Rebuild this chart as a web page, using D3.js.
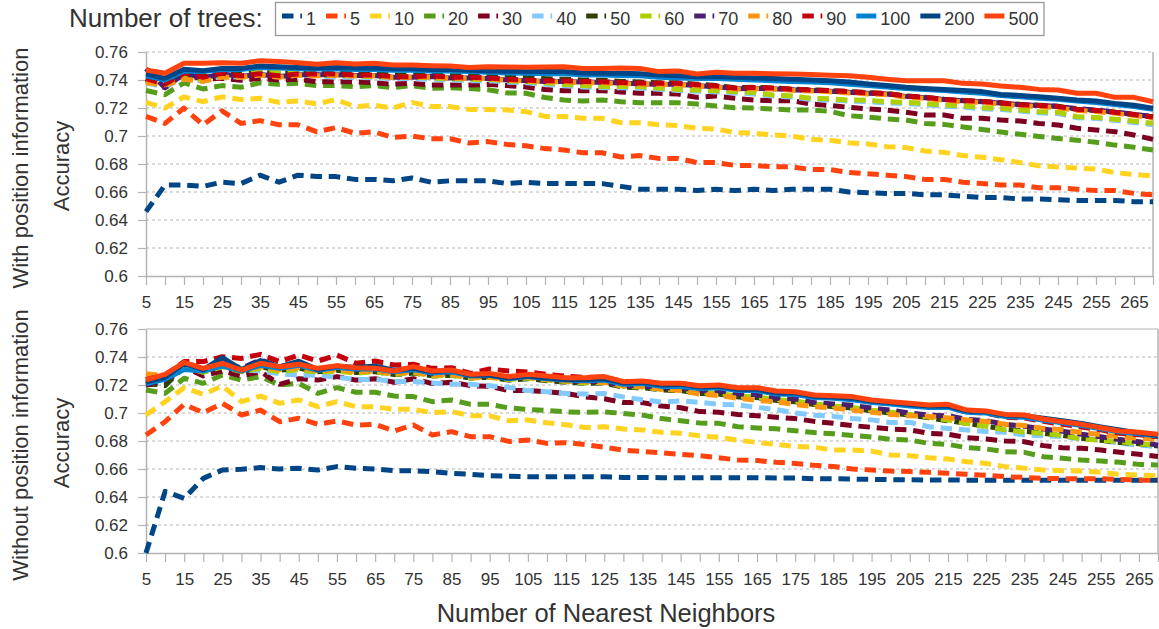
<!DOCTYPE html>
<html><head><meta charset="utf-8">
<script src="https://cdn.jsdelivr.net/npm/d3@7"></script>
<style>body{margin:0;background:#fff}svg{display:block;font-family:"Liberation Sans",Arial,sans-serif}</style>
</head><body><svg id="c" width="1159" height="629"></svg>
<script>
const categories = [5,10,15,20,25,30,35,40,45,50,55,60,65,70,75,80,85,90,95,100,105,110,115,120,125,130,135,140,145,150,155,160,165,170,175,180,185,190,195,200,205,210,215,220,225,230,235,240,245,250,255,260,265,270];
const xTickLabels = [5,15,25,35,45,55,65,75,85,95,105,115,125,135,145,155,165,175,185,195,205,215,225,235,245,255,265];
const yTicks = [0.6,0.62,0.64,0.66,0.68,0.7,0.72,0.74,0.76];
const seriesNames = ["1","5","10","20","30","40","50","60","70","80","90","100","200","500"];
const seriesColors = ["#004586","#ff420e","#ffd320","#579d1c","#7e0021","#83caff","#314004","#aecf00","#4b1f6f","#ff950e","#c5000b","#0084d1","#004586","#ff420e"];
const solidSeries = ["100","200","500"];

// With position information
const top_1 = [0.646,0.665,0.665,0.664,0.667,0.666,0.672,0.667,0.672,0.671,0.671,0.669,0.669,0.668,0.670,0.667,0.668,0.668,0.668,0.666,0.667,0.666,0.666,0.666,0.666,0.664,0.662,0.662,0.662,0.661,0.662,0.661,0.662,0.661,0.662,0.662,0.662,0.660,0.6595,0.659,0.659,0.658,0.658,0.657,0.656,0.656,0.655,0.655,0.6545,0.654,0.654,0.654,0.653,0.653];
const top_5 = [0.714,0.709,0.720,0.708,0.718,0.709,0.711,0.708,0.708,0.703,0.706,0.702,0.703,0.699,0.700,0.698,0.698,0.695,0.696,0.694,0.693,0.691,0.690,0.688,0.688,0.685,0.686,0.684,0.684,0.681,0.681,0.679,0.679,0.678,0.678,0.676,0.676,0.674,0.673,0.672,0.671,0.669,0.669,0.667,0.666,0.665,0.665,0.663,0.663,0.662,0.661,0.661,0.659,0.658];
const top_10 = [0.724,0.720,0.728,0.7245,0.728,0.726,0.727,0.724,0.725,0.723,0.726,0.721,0.722,0.720,0.724,0.721,0.721,0.719,0.719,0.7186,0.7174,0.714,0.714,0.7126,0.7126,0.7095,0.7095,0.708,0.7074,0.7055,0.705,0.7024,0.702,0.7007,0.700,0.6976,0.697,0.6952,0.6943,0.6924,0.6917,0.6893,0.6883,0.686,0.6848,0.6831,0.681,0.6788,0.6779,0.6771,0.6764,0.6738,0.6726,0.6714];
const top_20 = [0.7325,0.7295,0.738,0.7336,0.736,0.7348,0.738,0.737,0.7376,0.736,0.736,0.7352,0.736,0.7345,0.736,0.734,0.7345,0.734,0.733,0.7308,0.7305,0.7275,0.7257,0.725,0.7257,0.7245,0.7238,0.7238,0.7238,0.7228,0.7215,0.7202,0.720,0.7192,0.7186,0.7186,0.7176,0.7145,0.7135,0.7122,0.7114,0.709,0.7083,0.7065,0.7047,0.7028,0.7012,0.6997,0.6982,0.697,0.6955,0.6935,0.692,0.690];
const top_30 = [0.740,0.7345,0.744,0.7405,0.7412,0.7398,0.7412,0.740,0.7405,0.7388,0.7388,0.7388,0.738,0.737,0.7376,0.7364,0.7364,0.7364,0.7369,0.736,0.735,0.7332,0.7324,0.7324,0.7324,0.7315,0.7305,0.7305,0.730,0.7276,0.7286,0.7269,0.7257,0.7252,0.7252,0.7228,0.7218,0.7205,0.7193,0.7184,0.717,0.715,0.715,0.7126,0.7126,0.7114,0.7107,0.709,0.7079,0.7055,0.7043,0.7031,0.7007,0.6976];
const top_40 = [0.738,0.735,0.742,0.739,0.743,0.742,0.745,0.744,0.744,0.743,0.742,0.742,0.7415,0.741,0.741,0.7405,0.740,0.7395,0.7395,0.7385,0.738,0.737,0.736,0.735,0.7345,0.7345,0.7342,0.7333,0.7325,0.732,0.7315,0.7308,0.730,0.7285,0.7278,0.726,0.7257,0.725,0.7245,0.7237,0.7232,0.7224,0.7213,0.7208,0.7194,0.719,0.7178,0.7166,0.716,0.713,0.7125,0.7112,0.7097,0.708];
const top_50 = [0.741,0.736,0.746,0.743,0.7455,0.744,0.746,0.7445,0.7455,0.745,0.745,0.7445,0.7445,0.7435,0.7435,0.744,0.743,0.743,0.7428,0.7435,0.7425,0.741,0.7405,0.740,0.7398,0.739,0.7385,0.738,0.738,0.737,0.736,0.7345,0.7348,0.7343,0.7335,0.733,0.7325,0.7318,0.731,0.7303,0.7286,0.7276,0.7263,0.7254,0.7247,0.7237,0.7226,0.722,0.7212,0.7192,0.7183,0.717,0.7153,0.7138];
const top_60 = [0.739,0.736,0.743,0.740,0.744,0.743,0.746,0.745,0.745,0.744,0.743,0.7431,0.7425,0.742,0.742,0.7415,0.741,0.7405,0.7405,0.7395,0.739,0.738,0.737,0.736,0.7352,0.7355,0.7352,0.7342,0.7333,0.7329,0.7324,0.7317,0.731,0.7293,0.7286,0.7269,0.7265,0.7257,0.7255,0.7245,0.724,0.7232,0.7221,0.7217,0.7202,0.7198,0.7186,0.7174,0.7169,0.7138,0.7133,0.712,0.7105,0.709];
const top_70 = [0.748,0.7345,0.7445,0.7415,0.7443,0.7425,0.744,0.7425,0.7438,0.7438,0.7438,0.7432,0.7432,0.742,0.742,0.7425,0.7415,0.7415,0.741,0.740,0.7395,0.739,0.739,0.7385,0.7383,0.7378,0.7373,0.737,0.737,0.736,0.7352,0.7338,0.734,0.7337,0.733,0.7325,0.732,0.7313,0.7305,0.730,0.7283,0.7274,0.726,0.7252,0.7245,0.7235,0.7224,0.7218,0.7212,0.7195,0.7185,0.7172,0.7155,0.714];
const top_80 = [0.738,0.7365,0.7405,0.739,0.742,0.742,0.7435,0.742,0.7435,0.743,0.7435,0.7428,0.743,0.7418,0.742,0.7422,0.7413,0.7413,0.741,0.7398,0.7393,0.7388,0.7388,0.7382,0.738,0.7375,0.737,0.7368,0.7368,0.7358,0.735,0.7335,0.7338,0.7335,0.7326,0.7322,0.7316,0.7308,0.730,0.7295,0.7278,0.7268,0.7255,0.7245,0.724,0.7228,0.7216,0.721,0.7202,0.7182,0.7175,0.7162,0.7146,0.7128];
const top_90 = [0.741,0.737,0.745,0.742,0.7448,0.743,0.7445,0.743,0.7443,0.7443,0.7443,0.7436,0.7436,0.7424,0.7424,0.743,0.742,0.742,0.7415,0.7405,0.740,0.7395,0.7395,0.739,0.7388,0.7382,0.7378,0.7376,0.7376,0.7366,0.7358,0.7342,0.7346,0.7342,0.7334,0.7329,0.7324,0.7317,0.7308,0.7303,0.7285,0.7276,0.7262,0.7253,0.7247,0.7236,0.7224,0.7218,0.721,0.719,0.7182,0.717,0.7153,0.7135];
const top_100 = [0.743,0.740,0.7465,0.746,0.7475,0.7475,0.749,0.7485,0.748,0.7478,0.748,0.7475,0.7475,0.747,0.747,0.7465,0.7465,0.746,0.7455,0.745,0.7448,0.7445,0.7445,0.7438,0.7435,0.7432,0.743,0.742,0.7415,0.741,0.741,0.7405,0.740,0.7395,0.739,0.7385,0.738,0.737,0.736,0.735,0.734,0.7332,0.7325,0.7315,0.7305,0.729,0.728,0.727,0.7262,0.725,0.724,0.7225,0.721,0.719];
const top_200 = [0.7445,0.7412,0.7476,0.7467,0.7483,0.7483,0.750,0.7495,0.749,0.7485,0.749,0.7485,0.7485,0.748,0.748,0.7475,0.7475,0.747,0.7465,0.7462,0.746,0.746,0.746,0.745,0.7448,0.7448,0.7445,0.7436,0.743,0.7424,0.7424,0.742,0.7414,0.741,0.7405,0.740,0.7395,0.7385,0.7372,0.736,0.7348,0.734,0.7332,0.7325,0.7317,0.7297,0.729,0.728,0.727,0.7257,0.725,0.7233,0.722,0.7198];
const top_500 = [0.7471,0.7448,0.7519,0.7519,0.7524,0.7519,0.7538,0.7533,0.7524,0.7512,0.7524,0.7514,0.7519,0.7507,0.7507,0.7502,0.750,0.749,0.7495,0.7493,0.7491,0.7493,0.7495,0.7483,0.7483,0.7485,0.7483,0.746,0.7465,0.7443,0.7455,0.7448,0.7448,0.7445,0.7443,0.744,0.7434,0.743,0.7419,0.7405,0.7395,0.7395,0.7395,0.7376,0.7371,0.7357,0.7348,0.7333,0.7329,0.7305,0.7305,0.7276,0.7276,0.7245];

// Without position information
const bot_1 = [0.600,0.644,0.639,0.6533,0.6593,0.6598,0.661,0.660,0.6605,0.6593,0.6617,0.6605,0.660,0.6588,0.6588,0.6581,0.6569,0.6562,0.6552,0.6548,0.6545,0.6545,0.6545,0.6545,0.6545,0.654,0.654,0.6538,0.6538,0.6538,0.6538,0.6538,0.6538,0.6535,0.6535,0.653,0.653,0.6528,0.6526,0.6524,0.6523,0.6522,0.6522,0.652,0.652,0.652,0.652,0.652,0.652,0.652,0.652,0.652,0.652,0.652];
const bot_5 = [0.6843,0.6938,0.7062,0.7002,0.7069,0.6986,0.7021,0.6938,0.6962,0.6919,0.6943,0.6914,0.6919,0.6871,0.6914,0.6843,0.6867,0.6831,0.6831,0.6797,0.6807,0.6783,0.6788,0.6775,0.6755,0.6735,0.6725,0.6716,0.6705,0.6695,0.668,0.6664,0.666,0.6648,0.664,0.6626,0.6618,0.660,0.6593,0.6585,0.6582,0.6576,0.657,0.6562,0.6555,0.6545,0.654,0.6533,0.6531,0.653,0.6531,0.6525,0.6521,0.652];
const bot_10 = [0.6986,0.7081,0.7181,0.7133,0.7193,0.7081,0.7121,0.7069,0.7093,0.7045,0.7081,0.7045,0.7045,0.7026,0.7026,0.7002,0.701,0.6981,0.698,0.6945,0.695,0.693,0.6916,0.6897,0.6902,0.6886,0.6879,0.6862,0.6855,0.6837,0.6826,0.6805,0.679,0.6775,0.6762,0.6755,0.6736,0.6736,0.6728,0.670,0.6695,0.6681,0.6671,0.6652,0.664,0.6617,0.6605,0.6593,0.6588,0.6586,0.6576,0.6562,0.6557,0.6552];
const bot_20 = [0.7164,0.714,0.7248,0.7212,0.7271,0.7236,0.726,0.720,0.7212,0.714,0.7181,0.7148,0.7148,0.7121,0.7117,0.7081,0.7093,0.7062,0.7062,0.7036,0.7025,0.7018,0.7008,0.7005,0.7008,0.6997,0.6985,0.696,0.6945,0.6928,0.6926,0.6902,0.6893,0.6887,0.6873,0.686,0.6852,0.684,0.6828,0.6812,0.6807,0.6783,0.6776,0.6752,0.6743,0.6724,0.6719,0.6688,0.6676,0.6664,0.6657,0.6648,0.6633,0.6628];
const bot_30 = [0.720,0.7215,0.733,0.7265,0.730,0.7265,0.7295,0.7205,0.7245,0.7235,0.726,0.7235,0.7245,0.722,0.7245,0.721,0.722,0.7195,0.719,0.716,0.716,0.7152,0.714,0.7115,0.7102,0.7075,0.7074,0.705,0.7038,0.701,0.7005,0.699,0.698,0.697,0.696,0.694,0.6926,0.691,0.6898,0.6885,0.6879,0.6855,0.6848,0.6824,0.6814,0.680,0.6795,0.6767,0.6752,0.6748,0.6736,0.6719,0.6705,0.669];
const bot_40 = [0.722,0.724,0.735,0.731,0.733,0.731,0.730,0.728,0.727,0.727,0.7255,0.724,0.724,0.7225,0.7225,0.7215,0.7205,0.7205,0.7195,0.7183,0.716,0.7152,0.714,0.7135,0.714,0.7115,0.7095,0.7078,0.7086,0.7076,0.7062,0.7058,0.704,0.7024,0.700,0.6984,0.6976,0.696,0.6951,0.6932,0.6933,0.6902,0.689,0.6879,0.6867,0.6862,0.6843,0.6838,0.6831,0.6814,0.6807,0.6783,0.6771,0.676];
const bot_50 = [0.7215,0.7195,0.733,0.7295,0.7335,0.730,0.733,0.7305,0.732,0.7295,0.7305,0.729,0.7295,0.7275,0.7285,0.7265,0.727,0.725,0.7255,0.7235,0.7245,0.723,0.722,0.7212,0.7215,0.7185,0.718,0.7165,0.716,0.714,0.7135,0.7115,0.711,0.709,0.708,0.706,0.7045,0.7035,0.7015,0.700,0.6985,0.6965,0.6945,0.6925,0.6905,0.6885,0.687,0.6855,0.684,0.682,0.6805,0.679,0.678,0.6765];
const bot_60 = [0.723,0.725,0.733,0.729,0.733,0.7295,0.732,0.7295,0.731,0.729,0.730,0.7285,0.7295,0.7275,0.729,0.7265,0.727,0.725,0.7255,0.724,0.725,0.7235,0.7225,0.7215,0.722,0.719,0.7185,0.717,0.7165,0.7145,0.714,0.712,0.7115,0.7095,0.7085,0.7065,0.705,0.704,0.702,0.7005,0.699,0.697,0.695,0.6925,0.6905,0.688,0.6865,0.6855,0.684,0.6815,0.6805,0.6795,0.678,0.677];
const bot_70 = [0.7205,0.7235,0.7345,0.731,0.737,0.732,0.738,0.733,0.736,0.7315,0.7335,0.731,0.732,0.7295,0.731,0.728,0.729,0.7265,0.7265,0.725,0.726,0.7245,0.7232,0.7225,0.7225,0.7195,0.7195,0.718,0.718,0.716,0.7158,0.7135,0.713,0.7105,0.710,0.7075,0.7065,0.7055,0.7035,0.702,0.700,0.6985,0.698,0.6955,0.6945,0.692,0.6905,0.6885,0.687,0.6848,0.683,0.681,0.6795,0.677];
const bot_80 = [0.728,0.7265,0.7335,0.731,0.734,0.7305,0.733,0.731,0.7325,0.730,0.731,0.7295,0.730,0.728,0.7295,0.727,0.7275,0.7255,0.7255,0.7245,0.7255,0.724,0.7228,0.7225,0.722,0.7195,0.719,0.717,0.716,0.7135,0.7125,0.7105,0.709,0.708,0.706,0.7045,0.7035,0.702,0.7005,0.699,0.698,0.6975,0.6965,0.695,0.694,0.692,0.691,0.689,0.688,0.686,0.6845,0.683,0.682,0.681];
const bot_90 = [0.724,0.727,0.7367,0.7367,0.7402,0.739,0.7419,0.7367,0.7414,0.7371,0.7414,0.7355,0.7371,0.7343,0.7348,0.7319,0.7324,0.7283,0.7314,0.730,0.7293,0.7276,0.7262,0.7255,0.7255,0.7225,0.7225,0.721,0.721,0.7192,0.7195,0.7175,0.7175,0.715,0.7145,0.712,0.7115,0.7105,0.7085,0.7075,0.7055,0.7045,0.7045,0.7005,0.700,0.697,0.6965,0.694,0.692,0.690,0.688,0.6855,0.6845,0.683];
const bot_100 = [0.721,0.724,0.731,0.730,0.7335,0.730,0.734,0.732,0.734,0.7305,0.7325,0.7315,0.7315,0.7295,0.731,0.7285,0.7295,0.7265,0.727,0.7245,0.726,0.7245,0.7235,0.723,0.7235,0.7205,0.721,0.719,0.719,0.7175,0.718,0.716,0.716,0.7135,0.7132,0.711,0.7105,0.7095,0.7075,0.7065,0.705,0.704,0.704,0.7005,0.700,0.6975,0.697,0.6948,0.693,0.691,0.6888,0.6865,0.6852,0.6835];
const bot_200 = [0.722,0.7255,0.7355,0.731,0.7395,0.731,0.7375,0.733,0.737,0.731,0.7335,0.7325,0.7335,0.7305,0.732,0.7295,0.7305,0.727,0.727,0.725,0.7265,0.725,0.724,0.724,0.7245,0.7215,0.722,0.720,0.7205,0.7185,0.719,0.717,0.717,0.7145,0.7142,0.712,0.7115,0.7105,0.7085,0.7075,0.706,0.705,0.705,0.7015,0.701,0.6985,0.698,0.6962,0.6945,0.6925,0.690,0.6878,0.6858,0.684];
const bot_500 = [0.7236,0.7276,0.7362,0.7319,0.7355,0.7307,0.7355,0.7331,0.7348,0.7319,0.7338,0.7324,0.7319,0.730,0.7331,0.730,0.7307,0.7276,0.7283,0.726,0.7276,0.7264,0.7252,0.7252,0.726,0.7224,0.7229,0.7212,0.7212,0.7195,0.720,0.7181,0.7181,0.7157,0.7152,0.7129,0.7124,0.7117,0.7093,0.7081,0.7069,0.7057,0.7062,0.7021,0.7014,0.699,0.6986,0.6957,0.6938,0.6919,0.6895,0.6871,0.6862,0.6848];

const panels = [
  {title: "With position information", series: [top_1,top_5,top_10,top_20,top_30,top_40,top_50,top_60,top_70,top_80,top_90,top_100,top_200,top_500], top: 52, bottom: 276, right: 1153, solidTop: false},
  {title: "Without position information", series: [bot_1,bot_5,bot_10,bot_20,bot_30,bot_40,bot_50,bot_60,bot_70,bot_80,bot_90,bot_100,bot_200,bot_500], top: 329, bottom: 553, right: 1158, solidTop: true}
];

const svg = d3.select("#c");
const LEFT = 146, GRID = "#b3b3b3", TXT = "#333333";
const DASH = "11.5,6.8", LW = 5;
const fmt = d => String(+d.toFixed(2));

panels.forEach(p => {
  const x = d3.scalePoint().domain(categories).range([LEFT, p.right]);
  const y = d3.scaleLinear().domain([0.6, 0.76]).range([p.bottom, p.top]);
  const g = svg.append("g");

  // grid
  g.selectAll("line.grid").data(yTicks.filter(t => t > 0.6)).join("line")
    .attr("x1", LEFT).attr("x2", p.right).attr("y1", d => y(d)).attr("y2", d => y(d))
    .attr("stroke", GRID).attr("stroke-width", 1)
    .attr("stroke-dasharray", d => (p.solidTop && d === 0.76) ? null : "3,3");
  // right border
  g.append("line").attr("x1", p.right).attr("x2", p.right).attr("y1", p.top).attr("y2", p.bottom)
    .attr("stroke", GRID).attr("stroke-width", 1.5);

  // axes
  const ya = g.append("g").attr("transform", `translate(${LEFT},0)`)
    .call(d3.axisLeft(y).tickValues(yTicks).tickSize(8).tickSizeOuter(0).tickPadding(10).tickFormat(fmt));
  const xa = g.append("g").attr("transform", `translate(0,${p.bottom})`)
    .call(d3.axisBottom(x).tickSize(9).tickSizeOuter(0).tickPadding(11).tickFormat(d => xTickLabels.includes(d) ? d : ""));
  [ya, xa].forEach(a => {
    a.select(".domain").attr("stroke", GRID).attr("stroke-width", 1.5);
    a.selectAll(".tick line").attr("stroke", GRID).attr("stroke-width", 1.2);
    a.selectAll(".tick text").attr("fill", TXT).attr("font-size", 17).attr("font-family", '"Liberation Sans",Arial,sans-serif');
  });

  // series
  const line = d3.line().x((d, i) => x(categories[i])).y(d => y(d));
  p.series.forEach((s, k) => {
    g.append("path").attr("d", line(s)).attr("fill", "none")
      .attr("stroke", seriesColors[k]).attr("stroke-width", LW)
      .attr("stroke-linejoin", "round")
      .attr("stroke-dasharray", solidSeries.includes(seriesNames[k]) ? null : DASH);
  });

  // titles
  const cy = (p.top + p.bottom) / 2;
  svg.append("text").attr("transform", `translate(28,${cy + 4}) rotate(-90)`)
    .attr("text-anchor", "middle").attr("font-size", 22).attr("fill", TXT).text(p.title);
  svg.append("text").attr("transform", `translate(69,${cy + 2}) rotate(-90)`)
    .attr("text-anchor", "middle").attr("font-size", 22).attr("fill", TXT).text("Accuracy");
});

svg.append("text").attr("x", 606).attr("y", 622).attr("text-anchor", "middle")
  .attr("font-size", 25.5).attr("fill", TXT).text("Number of Nearest Neighbors");

// legend
svg.append("text").attr("x", 69).attr("y", 27).attr("font-size", 26).attr("fill", TXT).text("Number of trees:");
svg.append("rect").attr("x", 275.5).attr("y", 2.5).attr("width", 768.5).attr("height", 33)
  .attr("fill", "#fff").attr("stroke", "#999").attr("stroke-width", 1.3);
let lx = 282;
seriesNames.forEach((n, k) => {
  svg.append("line").attr("x1", lx).attr("x2", lx + 20).attr("y1", 16).attr("y2", 16)
    .attr("stroke", seriesColors[k]).attr("stroke-width", LW)
    .attr("stroke-dasharray", solidSeries.includes(n) ? null : DASH);
  const t = svg.append("text").attr("x", lx + 24).attr("y", 25).attr("font-size", 18).attr("fill", TXT).text(n);
  lx += 24 + t.node().getComputedTextLength() + 10;
});
</script></body></html>
